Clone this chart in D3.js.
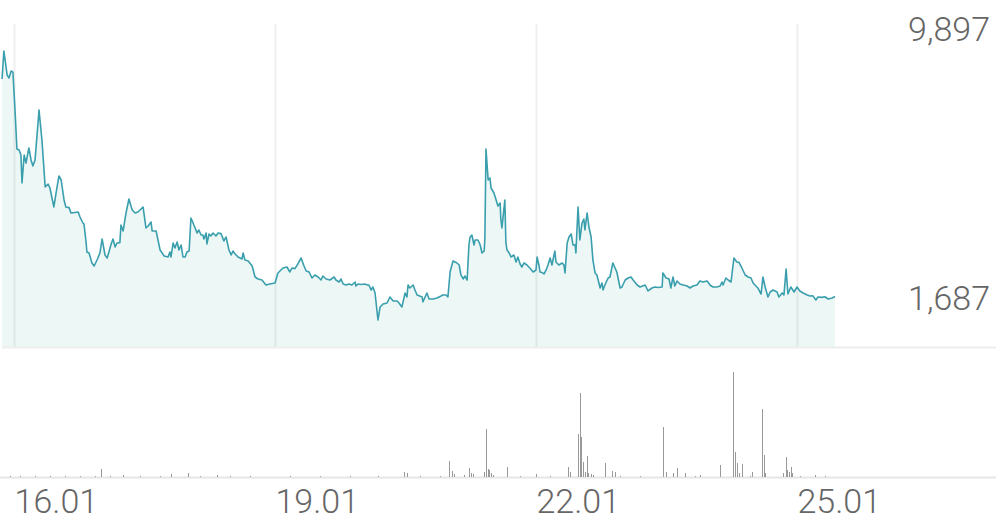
<!DOCTYPE html>
<html>
<head>
<meta charset="utf-8">
<script src="https://cdn.jsdelivr.net/npm/d3@7"></script>
<style>
html,body{margin:0;padding:0;background:#fff;}
svg{display:block;font-family:Roboto,"Noto Sans",sans-serif;}
.lbl{font-family:Roboto,sans-serif;font-weight:300;font-size:34px;fill:#666666;font-variant-numeric:tabular-nums;}
</style>
</head>
<body>
<svg id="chart" width="996" height="519"></svg>
<script>
// ---- data (hours since 16.01 00:00) ----
const baseTime = new Date(2024, 0, 16, 0, 0);
const priceHours = [
-3.3,-2.8,-1.9,-1.4,-0.8,-0.3,0.3,0.8,1.4,1.9,2.2,2.8,3.3,4.1,4.7,5.2,5.8,6.9,7.7,8.6,
9.4,9.9,11.0,11.6,12.4,13.0,13.8,14.3,15.2,15.7,16.8,17.7,18.2,19.0,19.3,19.9,20.1,20.7,21.5,22.1,
22.9,23.7,24.3,25.1,25.7,26.8,27.3,27.9,28.4,29.2,29.5,30.1,30.9,31.7,32.6,33.4,34.2,35.6,36.4,37.0,
37.8,38.1,39.2,40.3,41.4,42.5,43.0,43.3,43.9,44.4,45.0,45.5,46.1,46.6,47.2,47.7,48.3,48.8,49.4,50.5,
51.0,51.6,52.1,52.4,53.0,53.2,53.8,54.3,54.9,55.7,56.3,57.1,57.9,58.5,59.3,59.9,60.4,61.0,61.8,62.9,
63.2,63.7,64.6,65.7,66.5,67.3,68.4,69.5,70.6,72.0,72.8,74.2,75.3,76.1,76.7,77.5,78.3,79.2,80.0,80.6,
81.4,82.2,83.0,83.9,84.7,85.2,86.1,87.2,88.3,88.8,89.7,90.2,90.8,91.6,92.4,93.2,94.1,94.3,94.9,95.7,
96.8,97.4,97.9,98.5,99.0,99.6,100.4,101.0,101.8,102.9,103.7,104.6,105.7,106.2,107.0,107.9,108.4,108.7,109.2,110.1,
110.6,111.2,112.6,112.8,113.9,114.5,115.6,116.7,117.8,118.3,119.2,119.7,120.3,121.1,122.2,122.8,123.3,123.9,124.4,125.0,
125.5,125.8,126.3,126.9,127.2,128.0,128.6,129.1,129.7,129.9,130.2,130.8,131.3,131.6,132.4,133.0,133.5,134.1,134.3,134.6,
135.2,135.4,135.7,136.0,136.6,137.1,137.9,138.5,139.0,139.6,140.1,140.7,141.5,142.3,143.2,144.0,144.3,144.8,145.1,145.7,
146.2,146.8,147.3,147.9,148.4,149.2,149.5,150.3,151.2,151.7,152.0,152.6,153.1,153.7,154.2,154.8,155.0,155.6,156.1,156.7,
157.2,157.5,158.1,158.6,159.2,159.7,160.3,160.8,161.7,162.2,162.5,163.0,163.9,164.4,165.2,166.3,167.2,167.7,168.6,169.4,
170.2,170.8,171.9,172.7,174.1,174.9,176.0,176.8,177.7,178.8,179.0,179.9,180.7,181.2,181.8,182.3,182.9,183.7,184.6,185.7,
186.5,187.3,188.4,189.2,190.1,191.2,192.0,192.8,193.9,194.8,195.3,195.6,196.4,197.0,197.8,198.6,199.4,200.0,200.8,201.7,
202.5,203.3,203.9,204.4,205.2,206.1,206.6,207.2,208.0,208.6,209.4,210.5,211.0,211.9,212.4,213.0,213.5,214.3,215.2,216.0,
216.8,217.7,218.8,219.6,220.4,221.2,221.8,222.9,223.7,224.6,225.7,226.5
];
const priceValues = [
8962,9897,9096,8995,9229,9190,7858,6621,6588,6420,5484,6420,6153,6655,6253,6053,6253,7925,6922,5350,
5451,5317,4682,5150,5718,5584,4916,4682,4660,4481,4500,4514,4347,4147,4113,3478,3177,3143,2809,2709,
2909,3143,3612,3076,2976,3444,3612,3344,3478,3490,4080,3879,4481,4949,4581,4481,4514,4682,3979,4046,
4180,3879,3879,3244,3043,3010,3177,3010,3478,3311,3511,3244,3411,3010,3010,3177,3210,4314,4147,3812,
3912,3745,3745,3612,3812,3444,3779,3712,3812,3712,3812,3790,3545,3678,3244,3076,3210,3110,3010,2943,
3143,2909,2876,2709,2341,2274,2240,2073,2107,2140,2475,2642,2675,2508,2642,2620,2776,2976,2709,2541,
2508,2307,2408,2341,2240,2374,2274,2240,2341,2240,2174,2274,2107,2073,2107,2073,2174,2040,2107,2090,
2107,2073,2073,1906,2006,1806,903,1338,1438,1471,1672,1538,1538,1471,1338,1806,1672,2073,1973,2073,
1906,1739,1672,1505,1806,1605,1605,1639,1705,1739,1739,1672,2508,2876,2809,2742,2408,2274,2374,2240,
3411,3678,3745,3411,3578,3578,3411,3143,3210,3645,6621,5584,5651,5317,5150,4916,4715,4815,4280,3979,
4682,4916,3478,3244,3143,3010,3076,2842,3010,2776,2675,2809,2742,2642,2508,2575,3010,2742,2508,2490,
2441,2575,2742,2976,2742,3210,2842,2742,2809,2742,2475,3478,3678,3779,3411,3420,3143,4682,3578,4147,
4280,3912,4481,4013,3678,2909,2475,2408,1973,2140,1906,2073,2307,2341,2809,2508,1973,2006,2240,2307,
2341,2240,2073,2006,2073,1873,1973,2006,1990,2006,2475,2307,2274,1973,2341,2040,2207,2107,2073,2040,
1973,2040,2073,2207,2174,2207,2073,2006,2006,2040,2174,2073,2307,2240,2174,2976,2842,2830,2642,2408,
2341,2307,2140,2073,1973,1772,2341,2006,1672,1839,1906,1839,1672,1806,1739,2608,1772,2006,1839,2006,
1873,1806,1739,1705,1710,1572,1672,1660,1680,1605,1639,1687
];
const volumeHours = [
-1.1,1.7,5.8,9.9,14.1,18.2,22.3,24.0,26.5,30.1,34.8,40.3,43.3,48.0,51.3,56.0,59.6,65.1,76.1,84.4,
92.7,100.4,107.6,108.4,112.0,117.5,120.0,120.8,121.4,124.1,125.5,126.1,126.6,129.7,130.2,130.8,131.0,131.6,132.1,136.0,
139.6,144.0,147.9,152.8,153.4,155.6,156.1,156.4,157.0,157.5,158.1,158.3,159.2,159.7,163.0,165.0,165.8,167.2,172.7,179.0,
179.9,181.8,182.9,185.1,187.9,189.2,194.8,198.3,198.9,199.4,200.0,200.8,203.0,203.6,206.3,206.9,207.2,212.1,213.0,213.2,
213.8,214.3,214.6,216.8,221.0,223.7
];
const volumeValues = [
1,1,1,1,1,1,1,8,1,2,1,1,3,4,1,2,1,1,1,1,
1,1,5,4,1,1,16,6,3,2,9,4,3,5,48,8,7,4,2,10,
1,3,1,10,5,43,84,40,15,5,21,4,3,2,14,6,5,1,1,50,
5,4,9,4,1,2,12,105,25,14,4,13,1,5,68,22,4,4,20,7,
5,10,4,1,2,1
];
const tickLabels = ["16.01", "19.01", "22.01", "25.01"];
const topLabel = "9,897";
const lastLabel = "1,687";

// ---- build ----
const hour = 3600 * 1000;
const toDate = h => new Date(baseTime.getTime() + h * hour);
const price = priceHours.map((h, i) => ({ t: toDate(h), v: priceValues[i] }));
const volume = volumeHours.map((h, i) => ({ t: toDate(h), v: volumeValues[i] }));
const parseTick = d3.timeParse("%d.%m.%Y");
const tickDates = tickLabels.map(s => parseTick(s + ".2024"));

const W = 996, H = 519;
const priceTop = 24, priceBottom = 347;
const volTop = 367, volBottom = 477;

const x = d3.scaleTime()
  .domain([new Date(2024, 0, 15, 20, 41), new Date(2024, 0, 27, 6, 54)])
  .range([2, W]);
const y = d3.scaleLinear().domain([0, 10800]).range([priceBottom, priceTop]);
const yv = d3.scaleLinear().domain([0, 110]).range([volBottom, volTop]);

const svg = d3.select("#chart");

// vertical gridlines (price panel)
const grid = svg.append("g")
  .attr("transform", `translate(0,${priceBottom})`)
  .call(d3.axisBottom(x).tickValues(tickDates).tickSize(-(priceBottom - priceTop)).tickFormat(""));
grid.select(".domain").remove();
grid.selectAll(".tick line").attr("stroke", "#efefef").attr("stroke-width", 2);

// area + line
const area = d3.area().x(d => x(d.t)).y0(y(0)).y1(d => y(d.v));
const line = d3.line().x(d => x(d.t)).y(d => y(d.v));
svg.append("path").datum(price)
  .attr("d", area)
  .attr("fill", "#3aa59a").attr("fill-opacity", 0.09);
svg.append("path").datum(price)
  .attr("d", line)
  .attr("fill", "none").attr("stroke", "#3a9fad").attr("stroke-width", 1.6)
  .attr("stroke-linejoin", "round");

// price panel bottom line
svg.append("line")
  .attr("x1", x.range()[0]).attr("x2", W)
  .attr("y1", priceBottom + 0.5).attr("y2", priceBottom + 0.5)
  .attr("stroke", "#eeeeee").attr("stroke-width", 2);

// volume baseline
svg.append("line")
  .attr("x1", 0).attr("x2", W)
  .attr("y1", volBottom + 0.5).attr("y2", volBottom + 0.5)
  .attr("stroke", "#e6e6e6").attr("stroke-width", 2);

// volume bars
svg.append("g").selectAll("rect").data(volume).join("rect")
  .attr("x", d => Math.round(x(d.t)))
  .attr("width", 1)
  .attr("y", d => yv(d.v))
  .attr("height", d => volBottom - yv(d.v))
  .attr("fill", "#999999");

// x axis labels
const xAxis = svg.append("g")
  .attr("transform", `translate(0,${volBottom})`)
  .call(d3.axisBottom(x).tickValues(tickDates).tickSize(0).tickFormat(d3.timeFormat("%d.%m")));
xAxis.select(".domain").remove();
xAxis.selectAll(".tick text")
  .attr("class", "lbl")
  .attr("text-anchor", "start")
  .attr("x", 0).attr("y", 36).attr("dy", 0)
  .attr("fill", null);

// value labels
svg.append("text")
  .attr("class", "lbl")
  .attr("x", 990).attr("y", 41)
  .attr("text-anchor", "end")
  .text(topLabel);
svg.append("text")
  .attr("class", "lbl")
  .attr("x", 990).attr("y", y(priceValues[priceValues.length - 1]) + 13.5)
  .attr("text-anchor", "end")
  .text(lastLabel);
</script>
</body>
</html>
